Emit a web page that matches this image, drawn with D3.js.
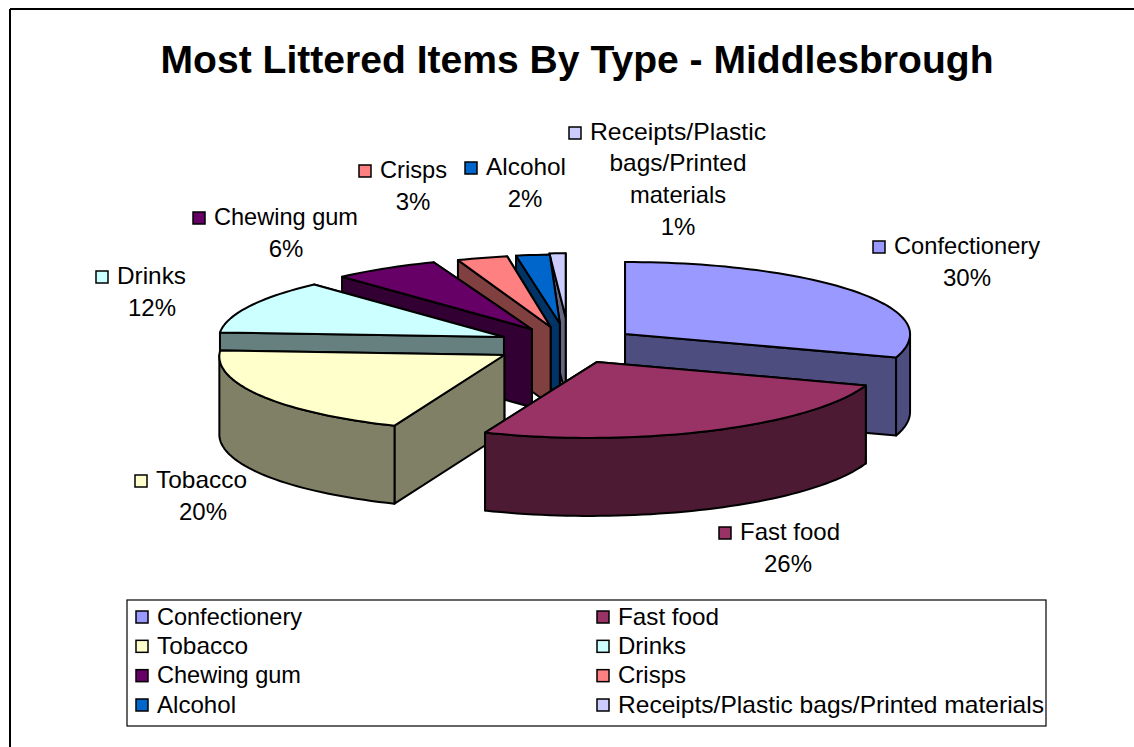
<!DOCTYPE html>
<html>
<head>
<meta charset="utf-8">
<script src="https://cdn.jsdelivr.net/npm/d3@7"></script>
<style>
html,body{margin:0;padding:0;background:#fff}
svg{display:block}
text{font-family:"Liberation Sans",Arial,sans-serif;fill:#000}
</style>
</head>
<body>
<svg id="c" width="1134" height="747"></svg>
<script>
const title = "Most Littered Items By Type - Middlesbrough";
const categories = ["Confectionery","Fast food","Tobacco","Drinks","Chewing gum","Crisps","Alcohol","Receipts/Plastic bags/Printed materials"];
const values = [30,26,20,12,6,3,2,1];
const topColors = ["#9999FF","#993366","#FFFFCC","#CCFFFF","#660066","#FF8080","#0066CC","#CCCCFF"];
const sideColors = ["#4D4D80","#4D1A33","#808066","#668080","#330033","#804040","#003366","#666680"];
const labelLines = [["Confectionery"],["Fast food"],["Tobacco"],["Drinks"],["Chewing gum"],["Crisps"],["Alcohol"],["Receipts/Plastic","bags/Printed","materials"]];

// layout
const cx=566, cy=345, explodeX=73, explodeY=18.7, depth=78, ryFront=76;
const sliceRx   = [285,285,285,285,285,270,270,260];
const sliceRyB  = [72,72,72,72,72,72,69,64];
const sliceShear= [0,-.1,-.07,-.1,-.1,-.1,-.1,0];
const nudgeX    = [0,0,0,4,5,5,3,2];
const nudgeY    = [0,0,0,0,0,0,-3,-9];
const labelPos = [
 {x:894,base:254,cx:967},{x:740,base:540,cx:788},{x:156,base:488,cx:203},{x:117,base:284,cx:152},
 {x:214,base:225,cx:286},{x:380,base:178,cx:413},{x:486,base:175,cx:525},{x:590,base:140,cx:678}
];
const labelWidths = [[146],[100],[91],[69],[144],[67],[80],[176,137,96]];
const legendWidths = [145,101,91,68,144,68,79,426];
const paintOrder = [7,6,5,4,3,0,2,1];
const fs = 24, sw = 13;

const svg = d3.select("#c");
svg.append("line").attr("x1",10).attr("x2",1134).attr("y1",9).attr("y2",9).attr("stroke","#000").attr("stroke-width",2);
svg.append("line").attr("x1",10).attr("x2",10).attr("y1",9).attr("y2",747).attr("stroke","#000").attr("stroke-width",2);

svg.append("text").attr("x",577).attr("y",73).attr("text-anchor","middle")
  .attr("font-size",39).attr("font-weight","bold")
  .attr("textLength",833).attr("lengthAdjust","spacingAndGlyphs").text(title);

const arcs = d3.pie().sort(null).startAngle(0).endAngle(2*Math.PI)(values);
const line = d3.line();
const g = svg.append("g");
paintOrder.forEach(i=>{
  const d=arcs[i], mid=(d.startAngle+d.endAngle)/2;
  const o=[cx+explodeX*Math.sin(mid)+nudgeX[i], cy-explodeY*Math.cos(mid)+nudgeY[i]];
  const pt=(a,z)=>{
    const c=Math.cos(a), dy=-(c>=0?sliceRyB[i]:ryFront)*c;
    return [o[0]+sliceRx[i]*Math.sin(a)+sliceShear[i]*dy, o[1]+dy+(z||0)];
  };
  const arcPts=(a0,a1,z)=>{
    const n=Math.max(2,Math.ceil((a1-a0)/0.03));
    return d3.range(n+1).map(k=>pt(a0+(a1-a0)*k/n,z));
  };
  const sl=g.append("g");
  const style=s=>s.attr("stroke","#000").attr("stroke-width",2).attr("stroke-linejoin","round");
  [d.startAngle,d.endAngle].sort((a,b)=>Math.cos(b)-Math.cos(a)).forEach(a=>{
    const p=pt(a);
    style(sl.append("path")).attr("fill",sideColors[i])
      .attr("d",line([o,p,[p[0],p[1]+depth],[o[0],o[1]+depth]])+"Z");
  });
  const a0=Math.max(d.startAngle,Math.PI/2), a1=Math.min(d.endAngle,1.5*Math.PI);
  if(a1>a0){
    const up=arcPts(a0,a1,0), dn=arcPts(a0,a1,depth).reverse();
    style(sl.append("path")).attr("fill",sideColors[i]).attr("d",line(up.concat(dn))+"Z");
  }
  style(sl.append("path")).attr("fill",topColors[i])
    .attr("d",line([o].concat(arcPts(d.startAngle,d.endAngle,0)))+"Z");
});

// data labels
categories.forEach((c,i)=>{
  const p=labelPos[i], gl=svg.append("g");
  gl.append("rect").attr("x",p.x-21).attr("y",p.base-13).attr("width",sw-1).attr("height",sw-1)
    .attr("fill",topColors[i]).attr("stroke","#000").attr("stroke-width",1.5);
  const lines=labelLines[i];
  lines.forEach((t,j)=>{
    gl.append("text").attr("font-size",fs)
      .attr("x",j===0?p.x:p.cx).attr("text-anchor",j===0?"start":"middle")
      .attr("textLength",labelWidths[i][j]).attr("lengthAdjust","spacingAndGlyphs")
      .attr("y",p.base+j*31.3).text(t);
  });
  gl.append("text").attr("font-size",fs).attr("x",p.cx).attr("text-anchor","middle")
    .attr("y",p.base+lines.length*31.7).text(values[i]+"%");
});

// legend
svg.append("rect").attr("x",127).attr("y",600).attr("width",919).attr("height",126)
  .attr("fill","#fff").attr("stroke","#000").attr("stroke-width",1.2);
const rowY=d3.scalePoint().domain([0,1,2,3]).range([617,705]);
const colX=d3.scalePoint().domain([0,1]).range([136,597]);
categories.forEach((c,i)=>{
  const x=colX(i%2), y=rowY(Math.floor(i/2));
  svg.append("rect").attr("x",x).attr("y",y-6).attr("width",sw-1).attr("height",sw-1)
    .attr("fill",topColors[i]).attr("stroke","#000").attr("stroke-width",1.5);
  svg.append("text").attr("font-size",fs).attr("x",x+21).attr("y",y+7.5)
    .attr("textLength",legendWidths[i]).attr("lengthAdjust","spacingAndGlyphs").text(c);
});
</script>
</body>
</html>
